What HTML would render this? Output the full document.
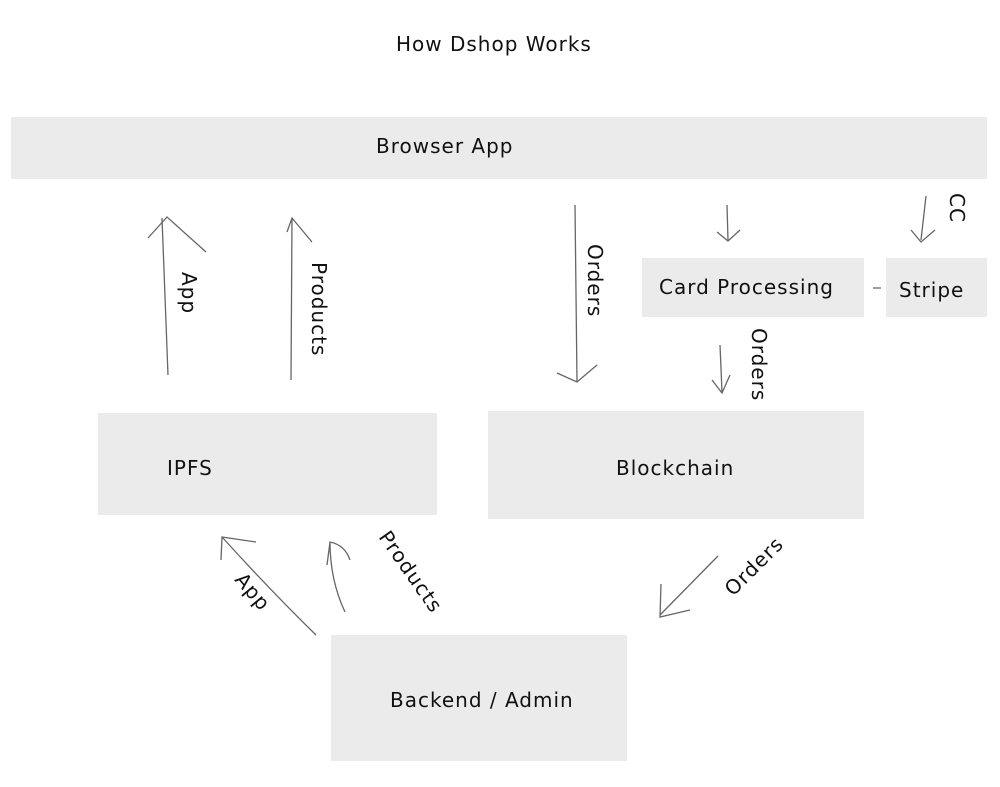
<!DOCTYPE html>
<html><head><meta charset="utf-8"><style>
html,body{margin:0;padding:0;background:#fff;}
body{width:1000px;height:787px;position:relative;overflow:hidden;font-family:"DejaVu Sans",sans-serif;}
.b{position:absolute;background:#ebebeb;}
.t{position:absolute;font-size:20px;letter-spacing:1px;color:#111;white-space:nowrap;}
</style></head><body>
<div class="t" style="left:396px;top:32px;">How Dshop Works</div>
<div class="b" style="left:11px;top:117px;width:976px;height:62px;"></div>
<div class="t" style="left:376px;top:134px;">Browser App</div>
<div class="b" style="left:642px;top:258px;width:222px;height:59px;"></div>
<div class="t" style="left:659px;top:275px;">Card Processing</div>
<div class="b" style="left:886px;top:258px;width:101px;height:59px;"></div>
<div class="t" style="left:899px;top:278px;">Stripe</div>
<div class="b" style="left:98px;top:413px;width:339px;height:102px;"></div>
<div class="t" style="left:167px;top:456px;">IPFS</div>
<div class="b" style="left:488px;top:411px;width:376px;height:108px;"></div>
<div class="t" style="left:616px;top:456px;">Blockchain</div>
<div class="b" style="left:331px;top:635px;width:296px;height:126px;"></div>
<div class="t" style="left:390px;top:688px;">Backend / Admin</div>

<svg width="1000" height="787" style="position:absolute;left:0;top:0" fill="none" stroke="#666" stroke-width="1.3">
<path d="M168 375 L162 218 M148 238 L167 217 L206 252"/>
<path d="M291 380 L292 218 M287 232 L292 218 L312 242"/>
<path d="M575 205 L577 382 M557 373 L577 382 L597 365"/>
<path d="M727 205 L728 240 M717 232 L728 241 L740 230"/>
<path d="M926 196 L921 240 M911 230 L921 242 L935 230"/>
<path d="M720 345 L722 392 M712 380 L722 393 L730 375"/>
<path d="M873 288 L881 288"/>
<path d="M316 635 Q270 590 222 537 M221 560 L222 537 L256 542"/>
<path d="M345 612 Q330 580 330 542 M327 565 L330 542 Q345 545 350 560"/>
<path d="M718 556 L660 615 M661 584 L660 617 L690 610"/>
<g stroke="none" fill="#111" font-family="DejaVu Sans, sans-serif" font-size="20" letter-spacing="1">
<text transform="translate(182,272) rotate(90)">App</text>
<text transform="translate(312,262) rotate(90)">Products</text>
<text transform="translate(588,244) rotate(90)">Orders</text>
<text transform="translate(752,328) rotate(90)">Orders</text>
<text transform="translate(950,193) rotate(90)">CC</text>
<text transform="translate(234,580) rotate(50)">App</text>
<text transform="translate(378,537) rotate(55)">Products</text>
<text transform="translate(733,597) rotate(-45)">Orders</text>
</g>
</svg>
</body></html>
